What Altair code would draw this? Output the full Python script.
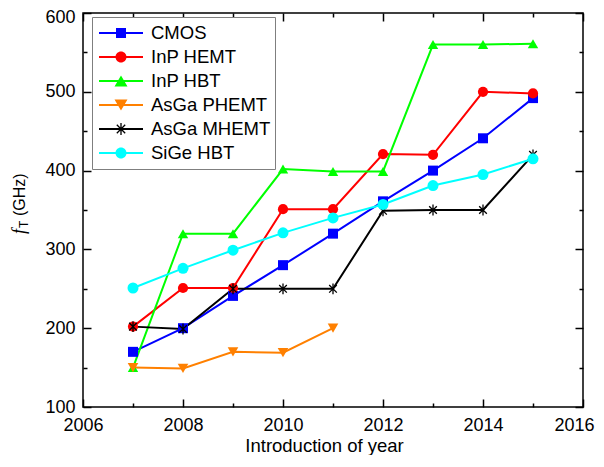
import altair as alt
import pandas as pd

FONT = "Liberation Sans"

years = [2007, 2008, 2009, 2010, 2011, 2012, 2013, 2014, 2015]
years_phemt = [2007, 2008, 2009, 2010, 2011]
series_names = ["CMOS", "InP HEMT", "InP HBT", "AsGa PHEMT", "AsGa MHEMT", "SiGe HBT"]
cmos = [170, 200, 241, 280, 320, 361, 400, 441, 492]
inp_hemt = [202, 251, 251, 351, 351, 421, 420, 500, 498]
inp_hbt = [150, 320, 320, 402, 399, 399, 560, 560, 561]
asga_phemt = [150, 149, 170, 169, 200]
asga_mhemt = [202, 199, 250, 250, 250, 349, 350, 350, 420]
sige_hbt = [251, 276, 299, 321, 340, 357, 381, 395, 415]
colors = ["#0000FF", "#FF0000", "#00FF00", "#FF8000", "#000000", "#00FFFF"]

x_label_ticks = [2006, 2008, 2010, 2012, 2014, 2016]
y_label_ticks = [100, 200, 300, 400, 500, 600]
x_all_ticks = list(range(2006, 2017))
y_all_ticks = list(range(100, 601, 50))

rows = []
for name, xs, ys in [
    ("CMOS", years, cmos),
    ("InP HEMT", years, inp_hemt),
    ("InP HBT", years, inp_hbt),
    ("AsGa PHEMT", years_phemt, asga_phemt),
    ("AsGa MHEMT", years, asga_mhemt),
    ("SiGe HBT", years, sige_hbt),
]:
    for xv, yv in zip(xs, ys):
        rows.append({"year": xv, "fT": yv, "series": name})
df = pd.DataFrame(rows)

W, H = 500, 394

# marker shapes in the plot
star_plot = ("M-0.12,-1H0.12V1H-0.12Z"
             "M-0.622,-0.792L0.792,0.622L0.622,0.792L-0.792,-0.622Z"
             "M-0.792,0.622L0.622,-0.792L0.792,-0.622L-0.622,0.792Z")
plot_shapes = ["square", "circle", "triangle-up", "triangle-down", star_plot, "circle"]
plot_sizes = [100, 121, 169, 169, 144, 121]

# legend symbols: line segment + marker (unit = 22 px)
seg = "M-1,-0.045H1V0.045H-1Z"
leg_square = seg + "M-0.227,-0.227H0.227V0.227H-0.227Z"
leg_circle = seg + "M0.25,0A0.25,0.25,0,1,1,-0.25,0A0.25,0.25,0,1,1,0.25,0Z"
leg_tri_up = seg + "M0,-0.255L0.295,0.255L-0.295,0.255Z"
leg_tri_down = seg + "M-0.295,-0.255L0.295,-0.255L0,0.255Z"
leg_star = (seg + "M-0.03,-0.27H0.03V0.27H-0.03Z"
            "M-0.170,-0.212L0.212,0.170L0.170,0.212L-0.212,-0.170Z"
            "M-0.212,0.170L0.170,-0.212L0.212,-0.170L-0.170,0.212Z")
legend_shapes = [leg_square, leg_circle, leg_tri_up, leg_tri_down, leg_star, leg_circle]

xscale = alt.Scale(domain=[2006, 2016], nice=False, zero=False)
yscale = alt.Scale(domain=[100, 600], nice=False, zero=False)
color_scale = alt.Scale(domain=series_names, range=colors)

main_x_axis = alt.Axis(
    values=x_label_ticks, format="d", ticks=False, tickSize=0, domain=False, grid=False,
    labelFont=FONT, labelFontSize=18, labelColor="black", labelPadding=9,
    labelFlush=False, labelOverlap=False,
    labelOffset={"condition": {"test": "datum.value === 2016", "value": -9}, "value": 0},
    title="Introduction of year", titleFont=FONT, titleFontSize=18.5,
    titleFontWeight="normal", titleColor="black", titleX=241, titleY=44,
    titleBaseline="alphabetic", titleAlign="center",
)
main_y_axis = alt.Axis(
    values=y_label_ticks, format="d", ticks=False, tickSize=0, domain=False, grid=False,
    labelFont=FONT, labelFontSize=18, labelColor="black", labelPadding=8,
    labelFlush=False, labelOverlap=False, title=None,
    labelOffset={"condition": {"test": "datum.value === 600", "value": 4}, "value": 0},
)

cond_x = {"condition": {"test": "datum.value % 2 === 0", "value": 8}, "value": 4}
cond_y = {"condition": {"test": "datum.value % 100 === 0", "value": 8}, "value": 4}


def tick_axis(orient, offset, values, cond):
    return alt.Axis(orient=orient, offset=offset, values=values, labels=False,
                    domain=False, grid=False, title=None, ticks=True,
                    tickSize=cond, tickColor="black", tickWidth=1.5)


legend_def = alt.Legend(
    title=None, orient="none", legendX=9, legendY=4, direction="vertical",
    symbolSize=1936, symbolStrokeWidth=0, symbolOpacity=1, symbolOffset=3,
    labelOffset=8, clipHeight=24, rowPadding=0, padding=4,
    labelFont=FONT, labelFontSize=18.5, labelColor="black", labelLimit=400,
    strokeColor="#7f7f7f", fillColor="white", cornerRadius=0,
)

lines = alt.Chart(df).mark_line(strokeWidth=2).encode(
    x=alt.X("year:Q", scale=xscale, axis=main_x_axis),
    y=alt.Y("fT:Q", scale=yscale, axis=main_y_axis),
    color=alt.Color("series:N", scale=color_scale, legend=None),
)

points = alt.Chart(df).mark_point(filled=True, opacity=1).encode(
    x=alt.X("year:Q", scale=xscale, axis=tick_axis("top", -H, x_all_ticks, cond_x)),
    y=alt.Y("fT:Q", scale=yscale, axis=tick_axis("right", -W, y_all_ticks, cond_y)),
    color=alt.Color("series:N", scale=color_scale, legend=None),
    shape=alt.Shape("series:N", scale=alt.Scale(domain=series_names, range=plot_shapes), legend=None),
    size=alt.Size("series:O", scale=alt.Scale(domain=series_names, range=plot_sizes), legend=None),
)

legend_pts = alt.Chart(df).mark_point(filled=True, opacity=0).encode(
    x=alt.X("year:Q", scale=xscale, axis=tick_axis("bottom", -H, x_all_ticks, cond_x)),
    y=alt.Y("fT:Q", scale=yscale, axis=tick_axis("left", -W, y_all_ticks, cond_y)),
    color=alt.Color("series:N", scale=color_scale, legend=legend_def),
    shape=alt.Shape("series:N", scale=alt.Scale(domain=series_names, range=legend_shapes), legend=legend_def),
)


def title_piece(text, x, y, size, font, style):
    return alt.Chart(alt.Data(values=[{"t": text}])).mark_text(
        angle=270, align="left", baseline="alphabetic", font=font,
        fontSize=size, fontStyle=style, color="black",
    ).encode(x=alt.value(x), y=alt.value(y), text="t:N")


ytitle_f = title_piece("f", -58, 221, 18, "Liberation Serif", "italic")
ytitle_T = title_piece("T", -55, 215, 12, FONT, "normal")
ytitle_rest = title_piece("(GHz)", -58, 203, 16, FONT, "normal")

chart = alt.layer(lines, points, legend_pts, ytitle_f, ytitle_T, ytitle_rest).resolve_scale(
    color="independent", shape="independent", size="independent"
).resolve_axis(x="independent", y="independent").properties(
    width=W, height=H,
    autosize=alt.AutoSizeParams(type="none"),
    padding={"left": 75, "top": 5, "right": 13, "bottom": 48},
).configure_view(stroke="black", strokeWidth=1.5)

chart.save("out.html", embed_options={"renderer": "svg", "actions": False})
